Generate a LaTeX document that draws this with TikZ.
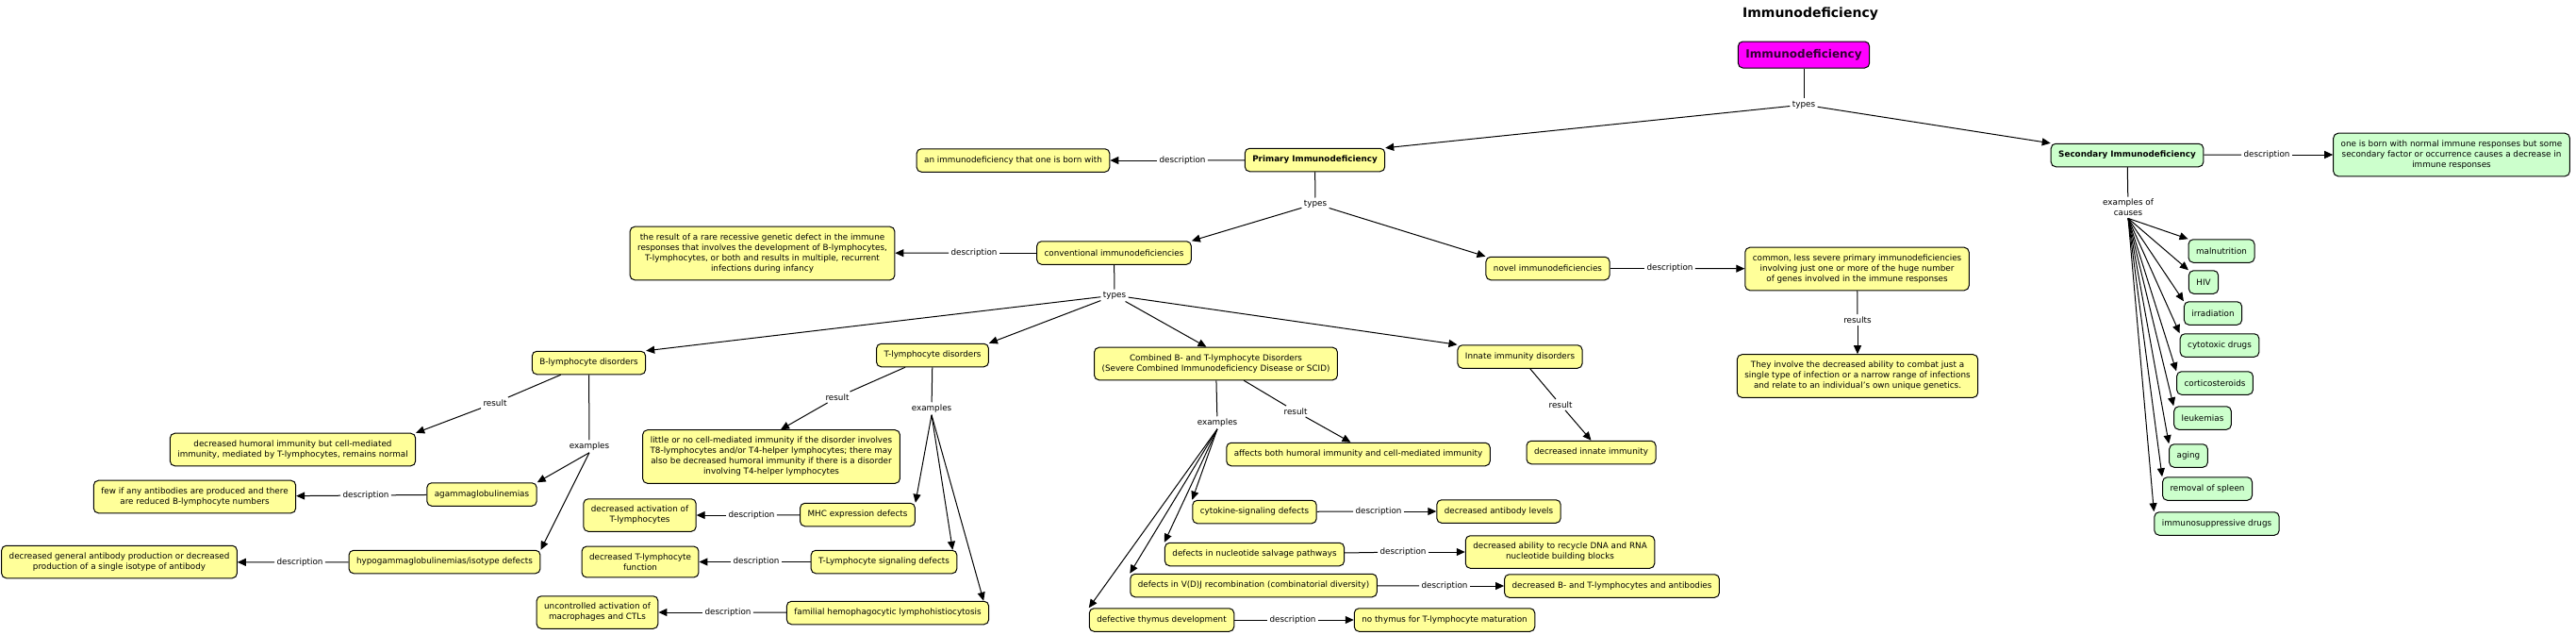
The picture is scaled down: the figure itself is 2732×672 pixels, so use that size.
\documentclass[tikz,border=0pt]{standalone}
\usepackage{fontspec}
\setmainfont{DejaVu Sans}
\usetikzlibrary{arrows.meta}

\definecolor{cmyellow}{RGB}{255,255,153}
\definecolor{cmgreen}{RGB}{204,255,204}
\definecolor{cmroot}{RGB}{255,0,255}
\definecolor{cmtext}{RGB}{51,0,51}
\newcommand{\cmfont}{\fontsize{8.8}{11}\selectfont}

\begin{document}
\begin{tikzpicture}[x=1pt, y=-1pt, line width=1pt,
  concept/.style={draw, rounded corners=5pt, fill=cmyellow, inner xsep=8pt, inner ysep=7.5pt, minimum height=24.5pt, align=center, font=\cmfont},
  cause/.style={concept, fill=cmgreen},
  link/.style={inner sep=2pt, font=\cmfont, align=center},
  arr/.style={-{Triangle[length=9pt,width=8pt]}}]

\useasboundingbox (0,0) rectangle (2732,672);

\node (title) at (1920,15) {\fontsize{14}{16}\selectfont\bfseries Immunodeficiency};
\node [concept, fill=cmroot, text=cmtext, minimum height=28pt] (root) at (1913,58) {\fontsize{12}{14}\selectfont\bfseries Immunodeficiency};
\node [link] (rtypes) at (1913,111) {types};

\node [concept] (prim) at (1394.5,169.5) {\bfseries Primary Immunodeficiency};
\node [cause] (sec) at (2256,164.5) {\bfseries Secondary Immunodeficiency};

\draw (root) -- (rtypes);
\draw[arr] (rtypes) -- (prim.north east);
\draw[arr] (rtypes) -- (sec.north west);

% primary
\node [link] (pdesc) at (1254,170) {description};
\node [concept] (pborn) at (1074.5,170) {an immunodeficiency that one is born with};
\draw (prim) -- (pdesc);
\draw[arr] (pdesc) -- (pborn);

\node [link] (ptypes) at (1395,216) {types};
\draw (prim) -- (ptypes);

\node [concept] (conv) at (1181.5,268) {conventional immunodeficiencies};
\node [concept] (novel) at (1641.5,284.5) {novel immunodeficiencies};
\draw[arr] (ptypes) -- (conv.north east);
\draw[arr] (ptypes) -- (novel.north west);

\node [link] (cdesc) at (1033,268) {description};
\node [concept] (cresult) at (808.5,268.5) {the result of a rare recessive genetic defect in the immune\\responses that involves the development of B-lymphocytes,\\T-lymphocytes, or both and results in multiple, recurrent\\infections during infancy};
\draw (conv) -- (cdesc);
\draw[arr] (cdesc) -- (cresult);

\node [link] (ndesc) at (1771,284.5) {description};
\node [concept] (common) at (1969.5,285) {common, less severe primary immunodeficiencies\\involving just one or more of the huge number\\of genes involved in the immune responses};
\draw (novel) -- (ndesc);
\draw[arr] (ndesc) -- (common);

\node [link] (nres) at (1970,339) {results};
\node [concept] (combat) at (1970,398.5) {They involve the decreased ability to combat just a\\single type of infection or a narrow range of infections\\and relate to an individual's own unique genetics.};
\draw (common) -- (nres);
\draw[arr] (nres) -- (combat);

% conventional types
\node [link] (ctypes) at (1182,313) {types};
\draw (conv) -- (ctypes);

\node [concept] (bdis) at (624.5,384.5) {B-lymphocyte disorders};
\node [concept] (tdis) at (989,376.5) {T-lymphocyte disorders};
\node [concept] (comb) at (1289.5,385.5) {Combined B- and T-lymphocyte Disorders\\(Severe Combined Immunodeficiency Disease or SCID)};
\node [concept] (innate) at (1612,378) {Innate immunity disorders};
\draw[arr] (ctypes) -- (bdis.north east);
\draw[arr] (ctypes) -- (tdis.north east);
\draw[arr] (ctypes) -- ([xshift=-10pt]comb.north);
\draw[arr] (ctypes) -- (innate.north west);

% B-lymphocyte disorders
\node [link] (bres) at (525,427) {result};
\node [link] (bex) at (625,473) {examples};
\node [concept] (humoral) at (310.5,476.5) {decreased humoral immunity but cell-mediated\\immunity, mediated by T-lymphocytes, remains normal};
\draw (bdis) -- (bres);
\draw[arr] (bres) -- (humoral.north east);
\draw (bdis) -- (bex);

\node [concept] (agam) at (511,524) {agammaglobulinemias};
\node [concept] (hypo) at (471.5,595.5) {hypogammaglobulinemias/isotype defects};
\draw[arr] (bex.south) -- (agam.north east);
\draw[arr] (bex.south) -- (hypo.north east);

\node [link] (adesc) at (388,525) {description};
\node [concept] (fewab) at (206.5,526.5) {few if any antibodies are produced and there\\are reduced B-lymphocyte numbers};
\draw (agam) -- (adesc);
\draw[arr] (adesc) -- (fewab);

\node [link] (hdesc) at (318,596) {description};
\node [concept] (genab) at (126.5,595.5) {decreased general antibody production or decreased\\production of a single isotype of antibody};
\draw (hypo) -- (hdesc);
\draw[arr] (hdesc) -- (genab);

% T-lymphocyte disorders
\node [link] (tres) at (888,421) {result};
\node [link] (tex) at (988,433) {examples};
\node [concept] (little) at (818,484) {little or no cell-mediated immunity if the disorder involves\\T8-lymphocytes and/or T4-helper lymphocytes; there may\\also be decreased humoral immunity if there is a disorder\\involving T4-helper lymphocytes};
\draw (tdis) -- (tres);
\draw[arr] (tres) -- ([xshift=10pt]little.north);
\draw (tdis) -- (tex);

\node [concept] (mhc) at (909.5,545.5) {MHC expression defects};
\node [concept] (tsig) at (937.5,595.5) {T-Lymphocyte signaling defects};
\node [concept] (fhl) at (941.5,649.5) {familial hemophagocytic lymphohistiocytosis};
\draw[arr] (tex.south) -- (mhc.north east);
\draw[arr] (tex.south) -- ([xshift=-5pt]tsig.north east);
\draw[arr] (tex.south) -- ([xshift=-6pt]fhl.north east);

\node [link] (mdesc) at (797,546) {description};
\node [concept] (tact) at (678.5,546) {decreased activation of\\T-lymphocytes};
\draw (mhc) -- (mdesc);
\draw[arr] (mdesc) -- (tact);

\node [link] (sgdesc) at (802,595.5) {description};
\node [concept] (tfun) at (679,595.5) {decreased T-lymphocyte\\function};
\draw (tsig) -- (sgdesc);
\draw[arr] (sgdesc) -- (tfun);

\node [link] (fdesc) at (772,649) {description};
\node [concept] (macro) at (633.5,649) {uncontrolled activation of\\macrophages and CTLs};
\draw (fhl) -- (fdesc);
\draw[arr] (fdesc) -- (macro);

% combined disorders
\node [link] (combres) at (1374,436) {result};
\node [link] (combex) at (1291,448) {examples};
\node [concept] (affects) at (1440.5,481.5) {affects both humoral immunity and cell-mediated immunity};
\draw (comb) -- (combres);
\draw[arr] (combres) -- ([xshift=-8pt]affects.north);
\draw (comb) -- (combex);

\node [concept] (cyto) at (1330.5,542.5) {cytokine-signaling defects};
\node [concept] (nucl) at (1330.5,587.5) {defects in nucleotide salvage pathways};
\node [concept] (vdj) at (1329.5,620.5) {defects in V(D)J recombination (combinatorial diversity)};
\node [concept] (thym) at (1232,657) {defective thymus development};
\draw[arr] (combex.south) -- (cyto.north west);
\draw[arr] (combex.south) -- (nucl.north west);
\draw[arr] (combex.south) -- (vdj.north west);
\draw[arr] (combex.south) -- (thym.north west);

\node [link] (cydesc) at (1462,542) {description};
\node [concept] (ablev) at (1589.5,542) {decreased antibody levels};
\draw (cyto) -- (cydesc);
\draw[arr] (cydesc) -- (ablev);

\node [link] (nudesc) at (1488,585) {description};
\node [concept] (recyc) at (1654.5,585) {decreased ability to recycle DNA and RNA\\nucleotide building blocks};
\draw (nucl) -- (nudesc);
\draw[arr] (nudesc) -- (recyc);

\node [link] (vdesc) at (1532,621) {description};
\node [concept] (btlow) at (1709.5,621) {decreased B- and T-lymphocytes and antibodies};
\draw (vdj) -- (vdesc);
\draw[arr] (vdesc) -- (btlow);

\node [link] (thdesc) at (1371,657) {description};
\node [concept] (nothym) at (1532,657) {no thymus for T-lymphocyte maturation};
\draw (thym) -- (thdesc);
\draw[arr] (thdesc) -- (nothym);

% innate
\node [link] (ires) at (1655,429) {result};
\node [concept] (innlow) at (1687.5,479.5) {decreased innate immunity};
\draw (innate) -- (ires);
\draw[arr] (ires) -- (innlow.north);

% secondary
\node [link] (sdesc) at (2404,164) {description};
\node [cause] (sborn) at (2600,164) {one is born with normal immune responses but some\\secondary factor or occurrence causes a decrease in\\immune responses};
\draw (sec) -- (sdesc);
\draw[arr] (sdesc) -- (sborn);

\node [link] (sex) at (2257,220) {examples of\\causes};
\draw (sec) -- (sex);

\node [cause] (mal) at (2356,266) {malnutrition};
\node [cause] (hiv) at (2337,299) {HIV};
\node [cause] (irr) at (2347,332) {irradiation};
\node [cause] (cyt) at (2354,366) {cytotoxic drugs};
\node [cause] (cort) at (2349,406) {corticosteroids};
\node [cause] (leuk) at (2336,443) {leukemias};
\node [cause] (aging) at (2321,483) {aging};
\node [cause] (spleen) at (2341,518) {removal of spleen};
\node [cause] (immsup) at (2351,555) {immunosuppressive drugs};

\draw[arr] (sex.south) -- (mal.north west);
\draw[arr] (sex.south) -- (hiv.north west);
\draw[arr] (sex.south) -- (irr.north west);
\draw[arr] (sex.south) -- (cyt.north west);
\draw[arr] (sex.south) -- (cort.north west);
\draw[arr] (sex.south) -- (leuk.north west);
\draw[arr] (sex.south) -- (aging.north west);
\draw[arr] (sex.south) -- (spleen.north west);
\draw[arr] (sex.south) -- (immsup.north west);

\end{tikzpicture}
\end{document}
